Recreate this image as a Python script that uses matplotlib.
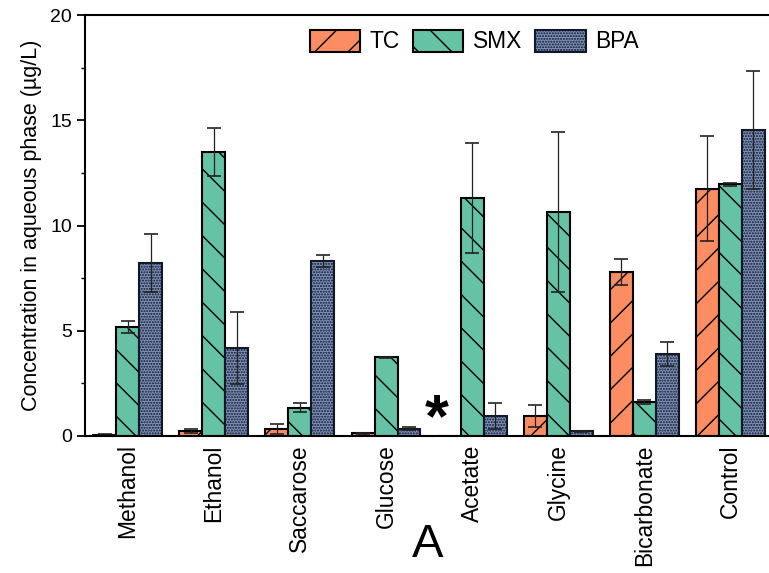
import numpy as np
import matplotlib.pyplot as plt

plt.rcParams['font.family'] = ['Liberation Sans', 'DejaVu Sans']
plt.rcParams['hatch.linewidth'] = 1.0

categories = ['Methanol', 'Ethanol', 'Saccarose', 'Glucose', 'Acetate', 'Glycine', 'Bicarbonate', 'Control']
tc = [0.05, 0.25, 0.33, 0.12, 0.0, 0.95, 7.8, 11.75]
tc_err = [0.03, 0.1, 0.25, 0.03, 0.0, 0.5, 0.63, 2.5]
smx = [5.18, 13.5, 1.35, 3.73, 11.3, 10.62, 1.6, 11.95]
smx_err = [0.3, 1.13, 0.23, 0.04, 2.6, 3.8, 0.1, 0.05]
bpa = [8.2, 4.18, 8.3, 0.35, 0.95, 0.22, 3.88, 14.52]
bpa_err = [1.38, 1.7, 0.28, 0.06, 0.6, 0.04, 0.57, 2.8]

fig = plt.figure(figsize=(7.69, 5.73), dpi=100)
ax = fig.add_axes([85/769, 137/573, 684/769, 421/573])

x = np.arange(len(categories))
w = 0.267
ekw = dict(elinewidth=0.9, capthick=1.2, ecolor='#222222')
ax.bar(x - w, tc, w, yerr=tc_err, capsize=5, color='#fc8d62', edgecolor='black',
       linewidth=1.5, hatch='/', label='TC', error_kw=ekw)
ax.bar(x, smx, w, yerr=smx_err, capsize=5, color='#66c2a5', edgecolor='black',
       linewidth=1.5, hatch='\\', label='SMX', error_kw=ekw)
ax.bar(x + w, bpa, w, yerr=bpa_err, capsize=5, color='#7d91bb', edgecolor='#111827',
       linewidth=1.5, hatch='......', label='BPA', error_kw=ekw)

# no TC detected for acetate
ax.text(4 - 1.55 * w, 0.75, '*', fontsize=44, fontweight='bold', ha='center', va='center')

ax.set_xlim(-0.496, 7.448)
ax.set_ylim(0, 20)
ax.set_yticks([0, 5, 10, 15, 20])
ax.set_yticks(np.arange(0, 20, 2.5), minor=True)
ax.tick_params(axis='y', which='major', direction='out', length=6, width=1.3, labelsize=14)
ax.tick_params(axis='y', which='minor', direction='out', length=3, width=1.0)
ax.set_xticks(x)
ax.set_xticklabels(categories, rotation=90, fontsize=16.4)
ax.tick_params(axis='x', length=0, pad=6)
ax.set_ylabel('Concentration in aqueous phase (µg/L)', fontsize=15.5, labelpad=6)

ax.spines['right'].set_visible(False)
for s in ['left', 'bottom', 'top']:
    ax.spines[s].set_linewidth(1.5)

ax.legend(loc='upper center', bbox_to_anchor=(0.569, 1.0), ncol=3, frameon=False,
          fontsize=16.4, handlelength=2.2, handleheight=1.1, columnspacing=0.6,
          handletextpad=0.4, borderaxespad=0.25)

fig.text(428/769, 1 - 545/573, 'A', fontsize=34, ha='center', va='center')

fig.savefig('out.png', dpi=100)
